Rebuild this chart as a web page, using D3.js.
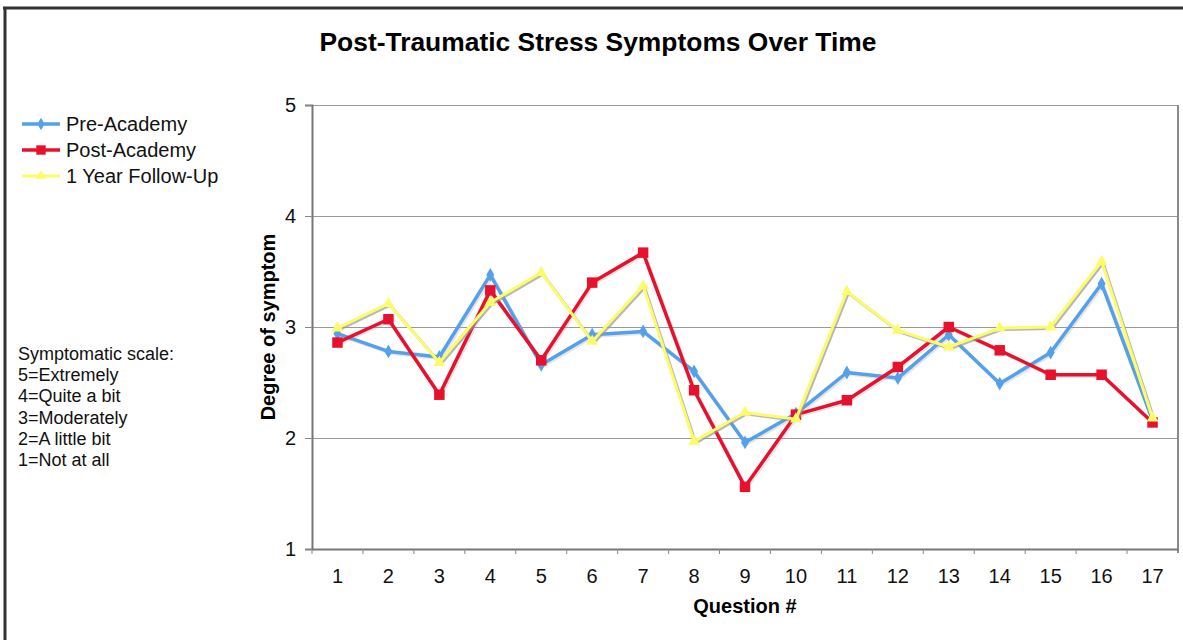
<!DOCTYPE html>
<html>
<head>
<meta charset="utf-8">
<script src="https://cdn.jsdelivr.net/npm/d3@7"></script>
<style>
  html, body { margin: 0; padding: 0; background: #fff; }
  svg { display: block; font-family: Arial, "Liberation Sans", Helvetica, sans-serif; }
</style>
</head>
<body>
<svg id="chart" width="1183" height="640"></svg>
<script>
const questions = ["1","2","3","4","5","6","7","8","9","10","11","12","13","14","15","16","17"];
const preAcademy  = [2.94, 2.78, 2.73, 3.47, 2.66, 2.93, 2.96, 2.60, 1.96, 2.22, 2.59, 2.54, 2.93, 2.49, 2.77, 3.39, 2.16];
const postAcademy = [2.86, 3.07, 2.39, 3.33, 2.70, 3.40, 3.67, 2.43, 1.56, 2.21, 2.34, 2.64, 3.00, 2.79, 2.57, 2.57, 2.14];
const followUp    = [2.99, 3.21, 2.68, 3.22, 3.49, 2.87, 3.37, 1.97, 2.23, 2.17, 3.32, 2.97, 2.82, 2.99, 3.00, 3.59, 2.18];
const yTicks = [1, 2, 3, 4, 5];
const seriesNames = ["Pre-Academy", "Post-Academy", "1 Year Follow-Up"];
const scaleLines = ["Symptomatic scale:", "5=Extremely", "4=Quite a bit", "3=Moderately", "2=A little bit", "1=Not at all"];
const title = "Post-Traumatic Stress Symptoms Over Time";

const svg = d3.select("#chart");
const W = 1183, H = 640;
const plot = { left: 312, right: 1178, top: 105, bottom: 549 };

const x = d3.scaleBand().domain(questions).range([plot.left, plot.right]).padding(0);
const y = d3.scaleLinear().domain([1, 5]).range([plot.bottom, plot.top]);

// outer frame
svg.append("line").attr("x1", 3).attr("x2", W).attr("y1", 8).attr("y2", 8)
  .attr("stroke", "#333").attr("stroke-width", 3);
svg.append("line").attr("x1", 5).attr("x2", 5).attr("y1", 7).attr("y2", H)
  .attr("stroke", "#333").attr("stroke-width", 3);

// title
svg.append("text").attr("x", 598).attr("y", 51).attr("text-anchor", "middle")
  .attr("font-size", 25).attr("font-weight", "bold").attr("fill", "#000")
  .attr("textLength", 557).attr("lengthAdjust", "spacingAndGlyphs")
  .text(title);

// gridlines
svg.append("g").selectAll("line").data(yTicks.filter(d => d > 1)).join("line")
  .attr("x1", plot.left).attr("x2", plot.right)
  .attr("y1", d => Math.round(y(d)) + 0.5).attr("y2", d => Math.round(y(d)) + 0.5)
  .attr("stroke", "#9a9a9a").attr("stroke-width", 1.2);

// right border
svg.append("line").attr("x1", plot.right).attr("x2", plot.right)
  .attr("y1", plot.top).attr("y2", plot.bottom + 4)
  .attr("stroke", "#8a8a8a").attr("stroke-width", 2);

// y axis
const yAxis = d3.axisLeft(y).tickValues(yTicks).tickFormat(d3.format("d")).tickSize(7).tickPadding(9);
const gy = svg.append("g").attr("transform", `translate(${plot.left},0)`).call(yAxis);
gy.select(".domain").attr("stroke", "#777").attr("stroke-width", 2);
gy.selectAll(".tick line").attr("stroke", "#888");
gy.selectAll("text").attr("font-size", 20).attr("fill", "#111").attr("font-family", "Arial, 'Liberation Sans', sans-serif");

// x axis
const xAxis = d3.axisBottom(x).tickSize(0).tickPadding(20);
const gx = svg.append("g").attr("transform", `translate(0,${plot.bottom})`).call(xAxis);
gx.select(".domain").attr("stroke", "#777").attr("stroke-width", 2);
gx.selectAll("text").attr("font-size", 20).attr("fill", "#111").attr("font-family", "Arial, 'Liberation Sans', sans-serif");
// boundary ticks between categories
svg.append("g").selectAll("line").data(questions).join("line")
  .attr("x1", d => x(d)).attr("x2", d => x(d))
  .attr("y1", plot.bottom).attr("y2", plot.bottom + 5)
  .attr("stroke", "#888").attr("stroke-width", 1);

// axis titles
svg.append("text").attr("transform", `translate(275,${(plot.top + plot.bottom) / 2}) rotate(-90)`)
  .attr("text-anchor", "middle").attr("font-size", 20).attr("font-weight", "bold")
  .text("Degree of symptom");
svg.append("text").attr("x", x("9") + x.bandwidth() / 2).attr("y", 613)
  .attr("text-anchor", "middle").attr("font-size", 20).attr("font-weight", "bold")
  .text("Question #");

const cx = d => x(d) + x.bandwidth() / 2;
const lineGen = d3.line().x(d => cx(d.q)).y(d => y(d.v));

const series = [
  { name: seriesNames[0], values: preAcademy, color: "#55a0ea", width: 3.5, marker: "diamond", msize: 55 },
  { name: seriesNames[1], values: postAcademy, color: "#e8112d", width: 3.5, marker: "square", msize: 110 },
  { name: seriesNames[2], values: followUp, color: "#fcfc6a", width: 3, marker: "triangle", msize: 60 }
];
const symbolType = { diamond: d3.symbolDiamond, square: d3.symbolSquare, triangle: d3.symbolTriangle };

series.forEach(s => {
  const pts = s.values.map((v, i) => ({ q: questions[i], v }));
  // soft shadow
  svg.append("path").datum(pts).attr("d", lineGen)
    .attr("transform", "translate(1.5,1.5)")
    .attr("fill", "none").attr("stroke", "#999").attr("stroke-opacity", s.marker === "triangle" ? 0.7 : 0.25)
    .attr("stroke-width", s.width).attr("stroke-linejoin", "round");
  svg.append("path").datum(pts).attr("d", lineGen)
    .attr("fill", "none").attr("stroke", s.color).attr("stroke-width", s.width)
    .attr("stroke-linejoin", "round");
  svg.append("g").selectAll("path").data(pts).join("path")
    .attr("transform", d => `translate(${cx(d.q)},${y(d.v)})`)
    .attr("d", d3.symbol().type(symbolType[s.marker]).size(s.msize))
    .attr("fill", s.color);
});

// legend
const legendY = [124, 150, 176];
series.forEach((s, i) => {
  const g = svg.append("g").attr("transform", `translate(0,${legendY[i]})`);
  g.append("line").attr("x1", 22).attr("x2", 60).attr("y1", 0).attr("y2", 0)
    .attr("stroke", s.color).attr("stroke-width", s.width);
  g.append("path").attr("transform", "translate(41,0)")
    .attr("d", d3.symbol().type(symbolType[s.marker]).size(s.msize * 0.8)).attr("fill", s.color);
  g.append("text").attr("x", 66).attr("y", 7).attr("font-size", 20).attr("fill", "#111").text(s.name);
});

// symptomatic scale note
svg.append("g").selectAll("text").data(scaleLines).join("text")
  .attr("x", 18).attr("y", (d, i) => 360 + i * 21.2)
  .attr("font-size", 18).attr("fill", "#111").text(d => d);
</script>
</body>
</html>
